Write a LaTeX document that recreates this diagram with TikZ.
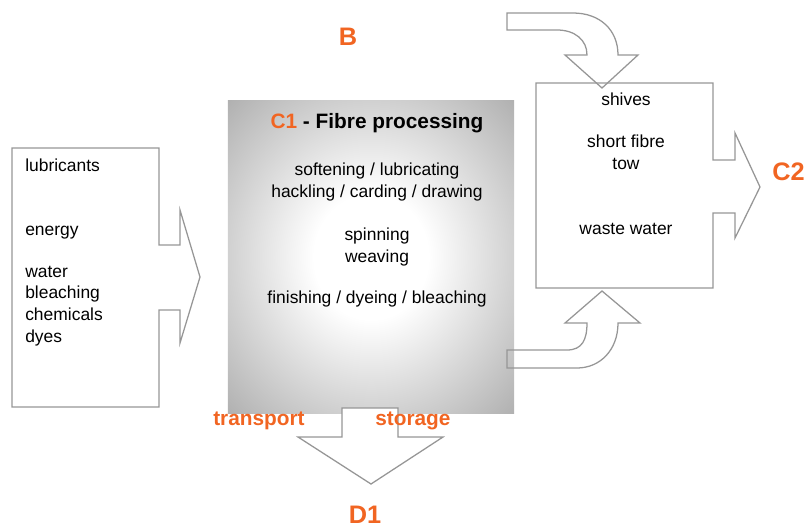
\documentclass[tikz,border=0pt]{standalone}
\usepackage{fontspec}
\setmainfont{Liberation Sans}
\usetikzlibrary{positioning}
\definecolor{accent}{RGB}{241,101,34}
\definecolor{edgegray}{RGB}{153,153,153}
\definecolor{linegray}{RGB}{150,150,150}
\pgfdeclareradialshading{pillow}{\pgfpointorigin}{color(0bp)=(white); color(10bp)=(white); color(43bp)=(edgegray); color(80bp)=(edgegray)}

\begin{document}
\begin{tikzpicture}[
    x=0.025cm, y=-0.025cm,
    txt/.style={inner sep=0pt, font=\fontsize{12.4}{15.3}\selectfont},
    heading/.style={inner sep=0pt, font=\fontsize{14.8}{17}\selectfont\bfseries},
    note/.style={inner sep=0pt, text=accent, font=\fontsize{14.8}{17}\selectfont\bfseries},
    tag/.style={inner sep=0pt, text=accent, font=\fontsize{18}{20}\selectfont\bfseries},
    outline/.style={draw=linegray, line width=0.9pt, line join=miter},
    procbox/.style={rectangle, inner sep=0pt, minimum width=7.15cm, minimum height=7.8cm, shade, shading=pillow}
]
    \useasboundingbox (0,0) rectangle (806,527);

    % Process block
    \node[procbox] (proc) at (371,257) {};
    \node[heading, anchor=base] (title) at (377,128) {\textcolor{accent}{C1} - Fibre processing};
    \node[txt, align=center, anchor=base] (prep) at (377,197) {softening / lubricating\\hackling / carding / drawing};
    \node[txt, align=center, anchor=base] (spin) at (377,262) {spinning\\weaving};
    \node[txt, anchor=base] (finish) at (377,303) {finishing / dyeing / bleaching};

    % Inputs (left)
    \draw[outline] (12,148) -- (159,148) -- (159,245) -- (180,245) -- (180,210) -- (200,277)
        -- (180,343) -- (180,310) -- (159,310) -- (159,407) -- (12,407) -- cycle;
    \node[txt, anchor=base west] (lubric) at (25,171) {lubricants};
    \node[txt, anchor=base west] (energy) at (25,235) {energy};
    \node[txt, align=left, anchor=base west] (water) at (25,342) {water\\bleaching\\chemicals\\dyes};

    % Outputs (right)
    \draw[outline] (536,83) -- (713,83) -- (713,160) -- (735,160) -- (735,133) -- (760,187)
        -- (735,238) -- (735,213) -- (713,213) -- (713,288) -- (536,288) -- cycle;
    \node[txt, anchor=base] (shives) at (626,105) {shives};
    \node[txt, align=center, anchor=base] (tow) at (626,169) {short fibre\\tow};
    \node[txt, anchor=base] (waste) at (626,234) {waste water};

    % Curved arrows
    \draw[outline] (507,13) -- (573,13) .. controls (600,13) and (618,30) .. (618,55) -- (638,55)
        -- (602,88) -- (565,55) -- (587,55) .. controls (587,40) and (575,30) .. (557,30) -- (507,30) -- cycle;
    \draw[outline] (507,350) -- (567,350) .. controls (582,350) and (587,340) .. (587,323) -- (565,323)
        -- (602,291) -- (640,323) -- (618,323) .. controls (618,350) and (600,368) .. (577,368) -- (507,368) -- cycle;

    % Down arrow
    \draw[outline, fill=white] (342,408) -- (398,408) -- (398,437) -- (443,437) -- (371,484)
        -- (298,437) -- (342,437) -- cycle;

    % Labels
    \node[tag, anchor=base] (tagB) at (348,45) {B};
    \node[tag, anchor=base west] (tagC) at (772,180) {C2};
    \node[tag, anchor=base] (tagD) at (365,523) {D1};
    \node[note, anchor=base west] (transport) at (213,425) {transport};
    \node[note, anchor=base west] (storage) at (375,425) {storage};

\end{tikzpicture}
\end{document}
